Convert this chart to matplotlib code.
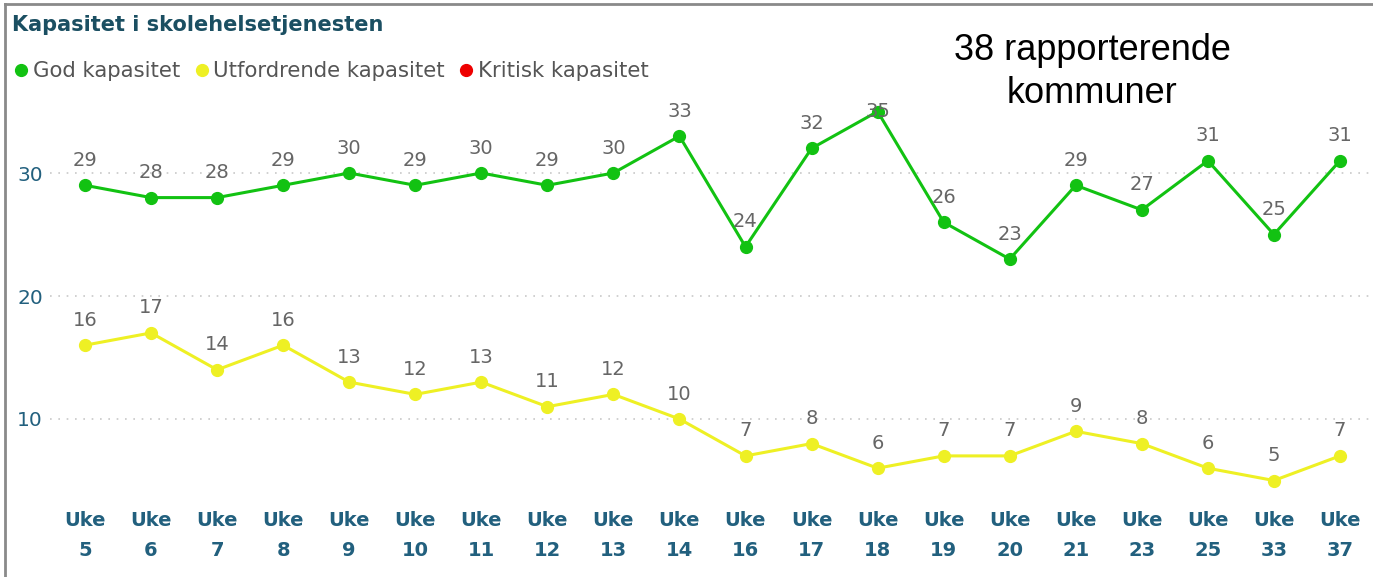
import matplotlib
matplotlib.use("Agg")
import matplotlib.pyplot as plt
from matplotlib.lines import Line2D

weeks = ["5", "6", "7", "8", "9", "10", "11", "12", "13", "14", "16", "17",
         "18", "19", "20", "21", "23", "25", "33", "37"]
tick_labels = ["Uke\n" + w for w in weeks]
god = [29, 28, 28, 29, 30, 29, 30, 29, 30, 33, 24, 32, 35, 26, 23, 29, 27, 31, 25, 31]
utfordrende = [16, 17, 14, 16, 13, 12, 13, 11, 12, 10, 7, 8, 6, 7, 7, 9, 8, 6, 5, 7]
series_names = ["God kapasitet", "Utfordrende kapasitet", "Kritisk kapasitet"]
series_colors = ["#12C212", "#EEF024", "#EE0000"]
title = "Kapasitet i skolehelsetjenesten"
note = "38 rapporterende\nkommuner"

W, H = 1373, 577
fig = plt.figure(figsize=(W / 100, H / 100), dpi=100)
fig.patch.set_facecolor("white")

def fx(px):
    return px / W

def fy(py):
    return 1 - py / H

# axes placement (pixels)
L, R, T, B = 50, 1373, 95, 500
ax = fig.add_axes([fx(L), fy(B), fx(R - L), (B - T) / H])
x = list(range(len(weeks)))
step = 66.05
ppu = 12.3  # pixels per y unit
ax.set_xlim((L - 85) / step, (R - 85) / step)
ymin, ymax = (542 - B) / ppu, (542 - T) / ppu
ax.set_ylim(ymin, ymax)

label_col = "#666666"
tick_col = "#22607E"
off_pt = 18
off_units = off_pt * (100 / 72) / ppu
for vals, col in [(god, series_colors[0]), (utfordrende, series_colors[1])]:
    ax.plot(x, vals, color=col, lw=2.2, marker="o", ms=8.5, zorder=3)
    for xi, v in zip(x, vals):
        # label goes inside the plot area if there is no room above
        o = off_pt if v + off_units + 0.3 < ymax else 0
        ax.annotate(str(v), (xi, v), xytext=(0, o), textcoords="offset points",
                    ha="center", va="center", fontsize=14, color=label_col,
                    family="DejaVu Sans", zorder=4)

ax.set_yticks([10, 20, 30])
ax.yaxis.grid(True, linestyle=(0, (1, 4)), color="#c8c8c8", lw=1.2)
ax.set_axisbelow(True)
ax.set_xticks(x)
ax.set_xticklabels(tick_labels, fontsize=14, fontweight="bold", color=tick_col,
                   family="DejaVu Sans", linespacing=1.7)
for lab in ax.get_yticklabels():
    lab.set_fontsize(14.5)
    lab.set_color(tick_col)
    lab.set_family("DejaVu Sans")
ax.tick_params(axis="both", length=0)
ax.tick_params(axis="x", pad=8)
ax.tick_params(axis="y", pad=5)
for s in ax.spines.values():
    s.set_visible(False)
ax.patch.set_alpha(0)

# title
fig.text(fx(12), fy(25), title, fontsize=15, fontweight="bold", color="#1B4F62",
         family="DejaVu Sans", ha="left", va="center")

# legend
handles = [Line2D([], [], marker="o", color=c, lw=0, ms=8.5) for c in series_colors]
leg = fig.legend(handles, series_names, loc="center left",
                 bbox_to_anchor=(fx(16), fy(71)), ncol=3, frameon=False,
                 handlelength=0.5, handletextpad=0.3, columnspacing=0.75,
                 borderaxespad=0, borderpad=0,
                 prop={"family": "DejaVu Sans", "size": 15.3})
for t in leg.get_texts():
    t.set_color("#555555")

# note
fig.text(fx(1092), fy(72), note, fontsize=26, family="Liberation Sans",
         ha="center", va="center", multialignment="center", color="black",
         linespacing=1.27)

# frame lines (top and left)
fig.add_artist(Line2D([fx(5), fx(5)], [fy(4), fy(577)], color="#8a8a8a", lw=2))
fig.add_artist(Line2D([fx(5), fx(1373)], [fy(4), fy(4)], color="#8a8a8a", lw=2))

fig.savefig("out.png", dpi=100)
